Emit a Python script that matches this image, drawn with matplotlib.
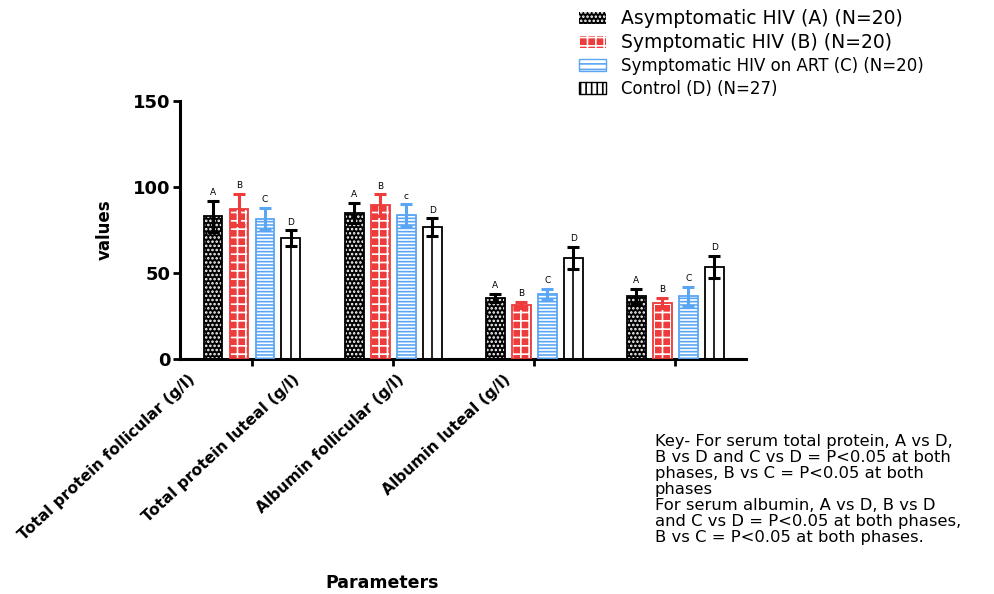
import numpy as np
import matplotlib
matplotlib.use('Agg')
from matplotlib import pyplot as plt
from matplotlib.patches import Patch

# datos
parametros = ['Total protein follicular (g/l)', 'Total protein luteal (g/l)',
              'Albumin follicular (g/l)', 'Albumin luteal (g/l)']
grupos = ['Asymptomatic HIV (A) (N=20)', 'Symptomatic HIV (B) (N=20)',
          'Symptomatic HIV on ART (C) (N=20)', 'Control (D) (N=27)']

medias_A = [83.0, 85.0, 35.6, 36.4]
medias_B = [87.0, 89.5, 31.4, 32.6]
medias_C = [81.5, 83.7, 37.8, 36.4]
medias_D = [70.3, 76.7, 58.9, 53.5]

err_A = [9.0, 5.8, 2.3, 4.5]
err_B = [9.0, 6.4, 2.0, 3.0]
err_C = [6.5, 6.4, 3.0, 5.6]
err_D = [4.7, 5.3, 6.4, 6.5]

letras_A = ['A', 'A', 'A', 'A']
letras_B = ['B', 'B', 'B', 'B']
letras_C = ['C', 'c', 'C', 'C']
letras_D = ['D', 'D', 'D', 'D']

clave = ('Key- For serum total protein, A vs D,\n'
         'B vs D and C vs D = P<0.05 at both\n'
         'phases, B vs C = P<0.05 at both\n'
         'phases\n'
         'For serum albumin, A vs D, B vs D\n'
         'and C vs D = P<0.05 at both phases,\n'
         'B vs C = P<0.05 at both phases.')

rojo = '#ee3b3b'
azul = '#5aa6f4'

plt.rcParams['font.family'] = 'DejaVu Sans'
plt.rcParams['hatch.linewidth'] = 1.2

fig = plt.figure(figsize=(9.95, 5.94), dpi=100)
ax = fig.add_axes([0.1809, 0.3956, 0.5688, 0.4343])

x = np.arange(len(parametros))
ancho = 0.134
paso = 0.184

# (medias, errores, letras, relleno, color trama, trama, color borde)
series = [
    (medias_A, err_A, letras_A, 'black', 'white', '....', 'black'),
    (medias_B, err_B, letras_B, rojo, 'white', '++', rojo),
    (medias_C, err_C, letras_C, 'white', azul, '-----', azul),
    (medias_D, err_D, letras_D, 'white', 'white', '', 'black'),
]

for i, (m, e, let, fc, hc, hatch, col) in enumerate(series):
    pos = x + (i - 1.5) * paso
    ax.bar(pos, m, ancho, color=fc, edgecolor=hc, hatch=hatch, linewidth=0, zorder=2)
    ax.bar(pos, m, ancho, fill=False, edgecolor=col, linewidth=1.3, zorder=3)
    if i == 3:
        ax.vlines(pos, 0, m, color='black', linewidth=1.2, zorder=3)
    ax.errorbar(pos, m, yerr=e, fmt='none', ecolor=col, elinewidth=2.2,
                capsize=4.5, capthick=2.2, zorder=4)
    for xx, yy, ee, t in zip(pos, m, e, let):
        ax.text(xx, yy + ee + 2, t, ha='center', va='bottom', fontsize=6.5)

ax.set_xlim(-0.51, 3.5)
ax.set_ylim(0, 150)
ax.set_yticks([0, 50, 100, 150])
ax.set_xticks(x)
ax.set_xticklabels([])
for s in ['top', 'right']:
    ax.spines[s].set_visible(False)
for s in ['left', 'bottom']:
    ax.spines[s].set_linewidth(2.2)
ax.tick_params(axis='both', width=2, length=5, direction='out')
ax.tick_params(axis='y', labelsize=13, pad=2)
for t in ax.get_yticklabels():
    t.set_fontweight('bold')

# etiquetas del eje x giradas
xs_etq = [188, 292, 397, 503]
for xp, p in zip(xs_etq, parametros):
    fig.text(xp / 995, 1 - 372 / 594, p, rotation=43, ha='right', va='top',
             rotation_mode='anchor', fontsize=11.2, fontweight='bold')

fig.text(105 / 995, 1 - 230 / 594, 'values', rotation=90, ha='center', va='center',
         fontsize=12, fontweight='bold')
fig.text(382 / 995, 1 - 583 / 594, 'Parameters', ha='center', va='center',
         fontsize=12.5, fontweight='bold')

fig.text(655 / 995, 1 - 434 / 594, clave, ha='left', va='top', fontsize=11.8,
         linespacing=1.09)

handles = [
    Patch(facecolor='black', edgecolor='white', hatch='....', linewidth=0),
    Patch(facecolor=rojo, edgecolor='white', hatch='++', linewidth=0),
    Patch(facecolor='white', edgecolor=azul, hatch='---', linewidth=1),
    Patch(facecolor='white', edgecolor='black', hatch='|||', linewidth=1),
]
leg = fig.legend(handles, grupos, loc='upper left', bbox_to_anchor=(564 / 995, 1 + 6 / 594),
                 frameon=False, fontsize=12, handlelength=1.6, handleheight=0.7,
                 labelspacing=0.3, handletextpad=0.9)
tamanos = [13.5, 13.5, 12, 12]
for t, s in zip(leg.get_texts(), tamanos):
    t.set_fontsize(s)

fig.savefig('out.png', dpi=100)
